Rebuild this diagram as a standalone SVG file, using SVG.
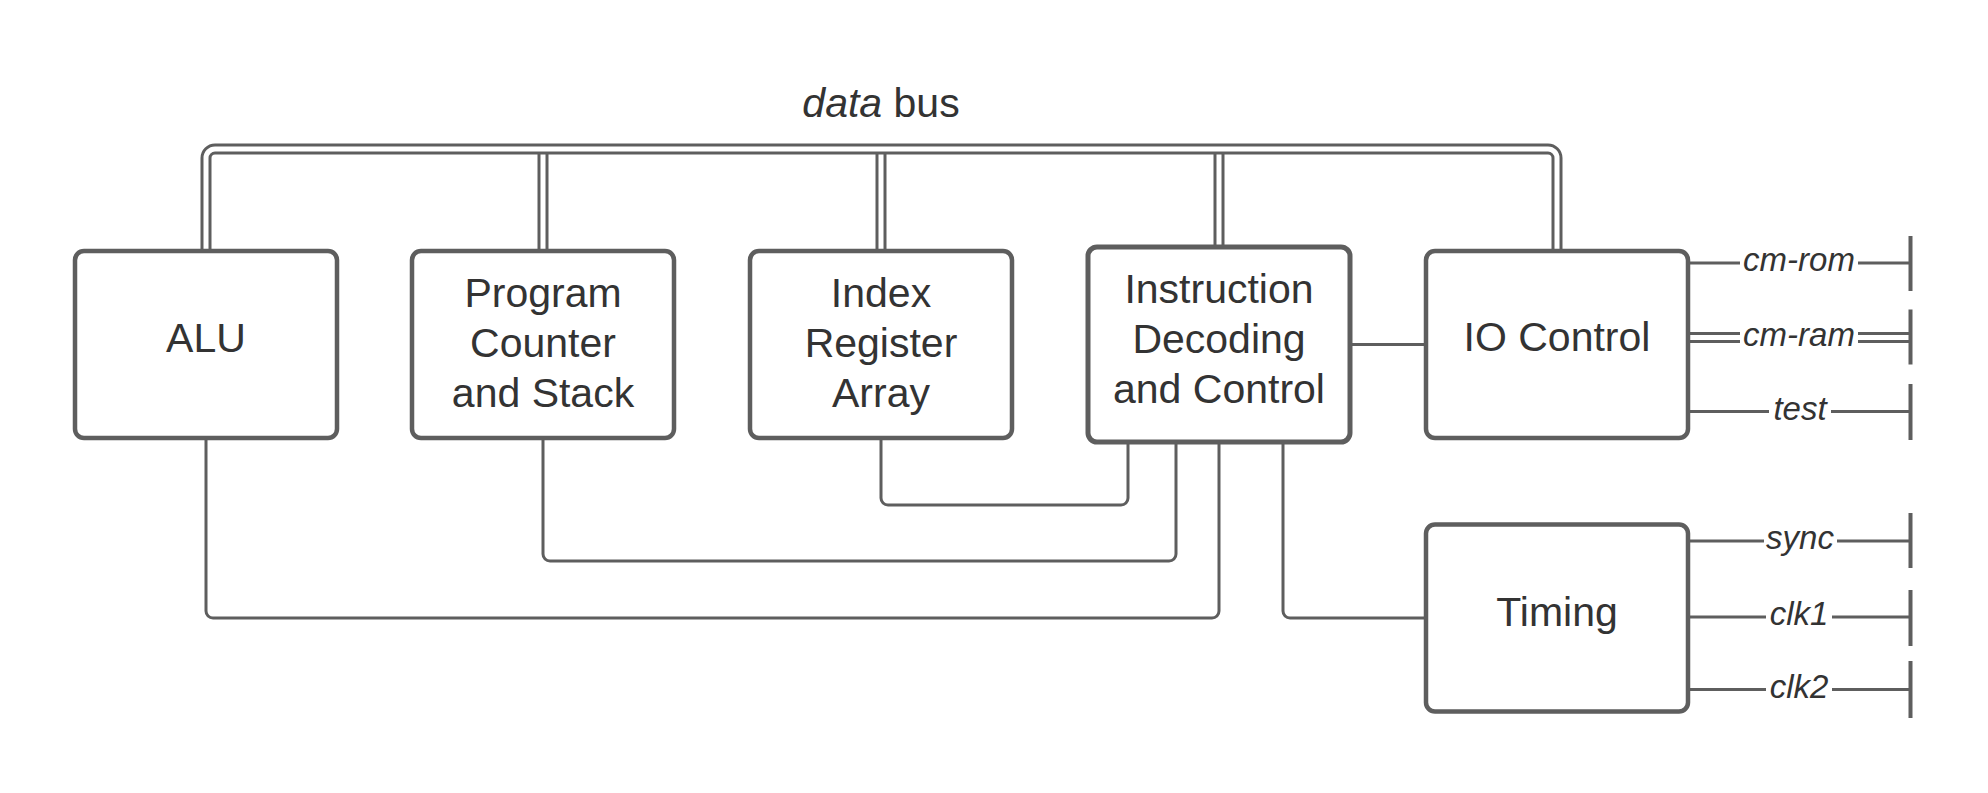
<svg xmlns="http://www.w3.org/2000/svg" width="1988" height="793" viewBox="0 0 1988 793">
<style>
.box{fill:#ffffff;stroke:#5e5e5e;stroke-width:4.5}
.lbl{font-family:"Liberation Sans",Arial,sans-serif;font-size:41px;fill:#333333;text-anchor:middle}
.sig{font-family:"Liberation Sans",Arial,sans-serif;font-size:33px;font-style:italic;fill:#333333;text-anchor:middle}
.ln{fill:none;stroke:#5e5e5e;stroke-width:3}
.dblo{fill:none;stroke:#5e5e5e;stroke-width:11}
.dbli{fill:none;stroke:#ffffff;stroke-width:5}
.bar{stroke:#5e5e5e;stroke-width:4}
.bg{fill:#ffffff}
</style>
<rect width="1988" height="793" fill="#ffffff"/>
<g id="connectors">
  <!-- data bus branches -->
  <path class="dblo" d="M543 147 V251 M881 147 V251 M1219 147 V247"/>
  <path class="dbli" d="M543 147 V251 M881 147 V251 M1219 147 V247"/>
  <!-- data bus -->
  <path class="dblo" d="M206 251 V158 A9 9 0 0 1 215 149 H1548 A9 9 0 0 1 1557 158 V251"/>
  <path class="dbli" d="M206 251 V158 A9 9 0 0 1 215 149 H1548 A9 9 0 0 1 1557 158 V251"/>
  <text x="881" y="117" class="lbl"><tspan font-style="italic">data</tspan> bus</text>
  <!-- bottom connections -->
  <path class="ln" d="M206 438 V611 A7 7 0 0 0 213 618 H1212 A7 7 0 0 0 1219 611 V442"/>
  <path class="ln" d="M543 438 V554 A7 7 0 0 0 550 561 H1169 A7 7 0 0 0 1176 554 V442"/>
  <path class="ln" d="M881 438 V498 A7 7 0 0 0 888 505 H1121 A7 7 0 0 0 1128 498 V442"/>
  <path class="ln" d="M1283 442 V611 A7 7 0 0 0 1290 618 H1426"/>
  <path class="ln" d="M1350 344.5 H1426"/>
  <!-- signals -->
  <path class="ln" d="M1687 263 H1910"/>
  <path class="dblo" d="M1687 337.5 H1910"/>
  <path class="dbli" d="M1687 337.5 H1910"/>
  <path class="ln" d="M1687 411.5 H1910"/>
  <path class="ln" d="M1687 541 H1910"/>
  <path class="ln" d="M1687 617 H1910"/>
  <path class="ln" d="M1687 689.5 H1910"/>
  <path class="bar" d="M1910.5 236 V291 M1910.5 309.5 V364.5 M1910.5 384 V440 M1910.5 513 V568 M1910.5 590 V646 M1910.5 661 V718"/>
  <rect class="bg" x="1740" y="248" width="118" height="30"/>
  <text class="sig" x="1799" y="271">cm-rom</text>
  <rect class="bg" x="1740" y="322" width="118" height="30"/>
  <text class="sig" x="1799" y="345.5">cm-ram</text>
  <rect class="bg" x="1769" y="396" width="62" height="30"/>
  <text class="sig" x="1800" y="419.5">test</text>
  <rect class="bg" x="1764" y="526" width="73" height="30"/>
  <text class="sig" x="1800" y="549">sync</text>
  <rect class="bg" x="1766" y="602" width="66" height="30"/>
  <text class="sig" x="1799" y="625">clk1</text>
  <rect class="bg" x="1766" y="674" width="66" height="30"/>
  <text class="sig" x="1799" y="697.5">clk2</text>
</g>
<g id="alu">
  <rect class="box" x="75" y="251" width="262" height="187" rx="9"/>
  <text class="lbl" x="206" y="351.5">ALU</text>
</g>
<g id="pc">
  <rect class="box" x="412" y="251" width="262" height="187" rx="9"/>
  <text class="lbl" x="543" y="306.5">Program</text>
  <text class="lbl" x="543" y="356.5">Counter</text>
  <text class="lbl" x="543" y="406.5">and Stack</text>
</g>
<g id="ir">
  <rect class="box" x="750" y="251" width="262" height="187" rx="9"/>
  <text class="lbl" x="881" y="306.5">Index</text>
  <text class="lbl" x="881" y="356.5">Register</text>
  <text class="lbl" x="881" y="406.5">Array</text>
</g>
<g id="idc">
  <rect class="box" x="1088" y="247" width="262" height="195" rx="9" style="stroke-width:5"/>
  <text class="lbl" x="1219" y="302.7">Instruction</text>
  <text class="lbl" x="1219" y="352.7">Decoding</text>
  <text class="lbl" x="1219" y="402.7">and Control</text>
</g>
<g id="io">
  <rect class="box" x="1426" y="251" width="262" height="187" rx="9"/>
  <text class="lbl" x="1557" y="350.7">IO Control</text>
</g>
<g id="timing">
  <rect class="box" x="1426" y="524.5" width="262" height="187" rx="9"/>
  <text class="lbl" x="1557" y="625.7">Timing</text>
</g>
</svg>
